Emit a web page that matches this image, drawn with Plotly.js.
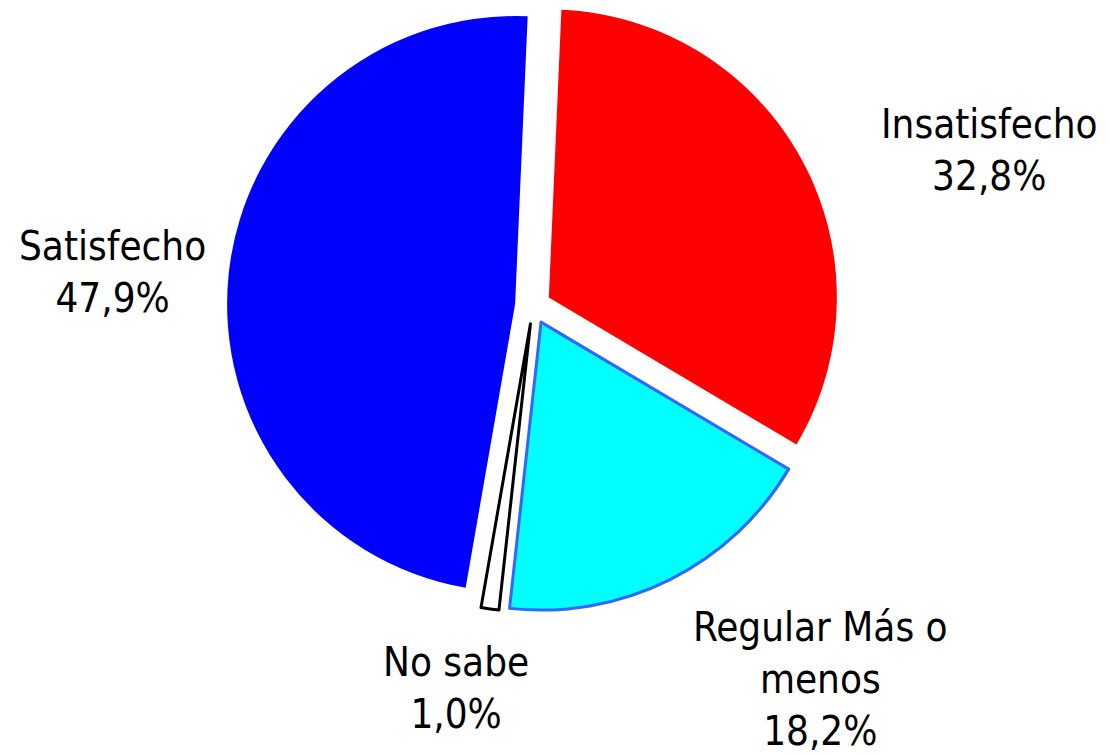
<!DOCTYPE html>
<html>
<head>
<meta charset="utf-8">
<script src="https://cdn.plot.ly/plotly-3.0.1.min.js"></script>
<style>
html,body{margin:0;padding:0;background:#fff;}
#chart{width:1109px;height:755px;}
</style>
</head>
<body>
<div id="chart"></div>
<script>
// Data (clockwise from top)
const labels = ["Insatisfecho", "Regular Más o menos", "No sabe", "Satisfecho"];
const displayLabels = ["Insatisfecho", "Regular Más o<br>menos", "No sabe", "Satisfecho"];
const values = [32.8, 18.2, 1.0, 47.9];

// Styles
const fillColors = ["#FF0000", "#00FFFF", "#FFFFFF", "#0000FF"];
const lineColors = ["#FF0000", "#3366FF", "#000000", "#0000FF"];
const lineWidths = [0, 3, 3, 0];
const labelPos = [
  {x: 989, y: 150},
  {x: 820, y: 679},
  {x: 456, y: 688},
  {x: 112, y: 272}
];

const W = 1109, H = 755;
const fontFam = "'DejaVu Sans Condensed', 'DejaVu Sans', sans-serif";

const fmt = v => v.toFixed(1).replace('.', ',') + '%';

const annotations = labels.map((l, i) => ({
  text: displayLabels[i] + '<br>' + fmt(values[i]),
  x: labelPos[i].x / W,
  y: 1 - labelPos[i].y / H,
  xref: 'paper', yref: 'paper',
  xanchor: 'center', yanchor: 'middle',
  showarrow: false,
  align: 'center',
  borderpad: 0,
  font: {family: fontFam, size: 40, color: '#000'}
}));

const trace = {
  type: 'pie',
  labels: labels,
  values: values,
  sort: false,
  direction: 'clockwise',
  rotation: 2.5,
  pull: 0.0625,
  textinfo: 'none',
  hoverinfo: 'label+percent',
  marker: {colors: fillColors, line: {color: lineColors, width: lineWidths}},
  domain: {x: [226 / W, 840 / W], y: [1 - 612 / H, 1]},
  showlegend: false
};

const layout = {
  width: W, height: H,
  margin: {l: 0, r: 0, t: 0, b: 0},
  paper_bgcolor: '#fff',
  plot_bgcolor: '#fff',
  showlegend: false,
  annotations: annotations
};

Plotly.newPlot('chart', [trace], layout, {displayModeBar: false, staticPlot: true});
</script>
</body>
</html>
